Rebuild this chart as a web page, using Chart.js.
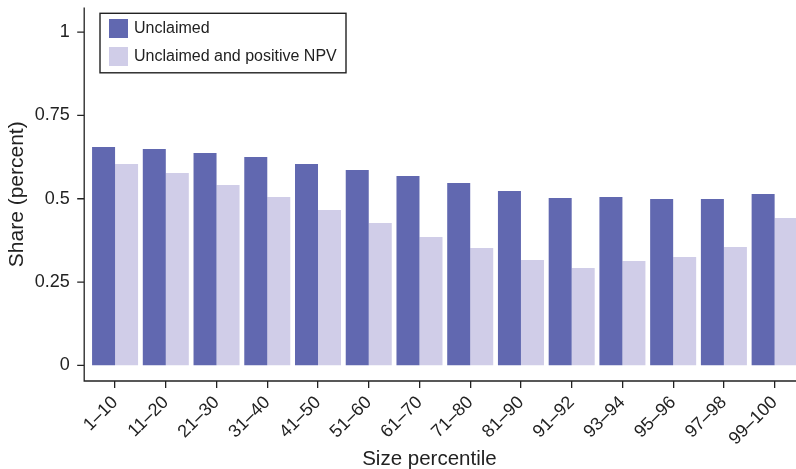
<!DOCTYPE html>
<html>
<head>
<meta charset="utf-8">
<script src="https://cdn.jsdelivr.net/npm/chart.js@4/dist/chart.umd.min.js"></script>
<style>
  html, body { margin: 0; padding: 0; background: #fff; overflow: hidden; }
  #wrap { position: relative; width: 810px; height: 469px; }
</style>
</head>
<body>
<div id="wrap"><canvas id="c"></canvas></div>
<script>
// Share of unclaimed items by size percentile
const categories = ['1–10', '11–20', '21–30', '31–40', '41–50', '51–60', '61–70',
                    '71–80', '81–90', '91–92', '93–94', '95–96', '97–98', '99–100'];
const unclaimed = [0.655, 0.649, 0.637, 0.625, 0.604, 0.586, 0.568,
                   0.547, 0.523, 0.502, 0.505, 0.499, 0.499, 0.514];
const unclaimedPositiveNPV = [0.604, 0.577, 0.541, 0.505, 0.466, 0.427, 0.385,
                              0.352, 0.316, 0.292, 0.313, 0.325, 0.355, 0.442];
const yTicks = [0, 0.25, 0.5, 0.75, 1];
const seriesNames = ['Unclaimed', 'Unclaimed and positive NPV'];
const xTitle = 'Size percentile';
const yTitle = 'Share (percent)';

const INK = '#222222';
const DARK = '#6168b0';
const LIGHT = '#d0cde8';
const AXIS_GAP = 5.5;   // axis lines sit slightly outside the plot region

Chart.defaults.font.family = '"Liberation Sans", Arial, Helvetica, sans-serif';
Chart.defaults.color = INK;

// Detached L-shaped axes, y tick marks, x title and an in-plot boxed legend
const axesAndLegend = {
  id: 'axesAndLegend',
  afterDraw(chart) {
    const { ctx, chartArea, scales } = chart;
    const ax = chartArea.left - AXIS_GAP;
    const ay = chartArea.bottom;
    ctx.save();
    ctx.strokeStyle = INK;
    ctx.lineWidth = 1.3;
    ctx.beginPath();
    ctx.moveTo(ax, chartArea.top);
    ctx.lineTo(ax, ay);
    ctx.lineTo(chart.width, ay);
    scales.y.ticks.forEach(t => {
      const py = scales.y.getPixelForValue(t.value);
      ctx.moveTo(ax - 7, py);
      ctx.lineTo(ax, py);
    });
    ctx.stroke();

    // x-axis title, centred between the y axis and the last tick
    const lastTick = scales.x.getPixelForTick(categories.length - 1);
    ctx.fillStyle = INK;
    ctx.font = '20.5px "Liberation Sans", Arial, sans-serif';
    ctx.textAlign = 'center';
    ctx.textBaseline = 'alphabetic';
    ctx.fillText(xTitle, (ax + lastTick) / 2, chart.height - 4);

    // legend box
    const lx = chartArea.left + 10.3;
    const ly = chartArea.top + 5.8;
    ctx.lineWidth = 1.4;
    ctx.strokeStyle = INK;
    ctx.strokeRect(lx, ly, 246, 59.5);
    ctx.font = '16px "Liberation Sans", Arial, sans-serif';
    ctx.textAlign = 'left';
    ctx.textBaseline = 'middle';
    chart.data.datasets.forEach((ds, i) => {
      const rowTop = ly + 5.7 + i * 28;
      ctx.fillStyle = ds.backgroundColor;
      ctx.fillRect(lx + 9, rowTop, 19, 19);
      ctx.fillStyle = INK;
      ctx.fillText(ds.label, lx + 34, rowTop + 9.8);
    });
    ctx.restore();
  }
};

new Chart(document.getElementById('c'), {
  type: 'bar',
  data: {
    labels: categories,
    datasets: [
      { label: seriesNames[0], data: unclaimed, backgroundColor: DARK,
        barPercentage: 1, categoryPercentage: 0.907 },
      { label: seriesNames[1], data: unclaimedPositiveNPV, backgroundColor: LIGHT,
        barPercentage: 1, categoryPercentage: 0.907 }
    ]
  },
  options: {
    responsive: true,
    maintainAspectRatio: false,
    animation: false,
    layout: { padding: { top: 7.5, right: 10, bottom: 0, left: 0 } },
    plugins: {
      legend: { display: false },
      tooltip: { enabled: false }
    },
    scales: {
      x: {
        offset: true,
        border: { display: false },
        grid: {
          display: true, drawOnChartArea: false, drawTicks: true,
          tickLength: 7, offset: false, color: INK, lineWidth: 1.3
        },
        ticks: {
          autoSkip: false, maxRotation: 45, minRotation: 45,
          padding: 4, color: INK, font: { size: 18 }
        },
        afterFit(scale) {
          scale.height = 88;
          scale.paddingLeft = 0;
          scale.paddingRight = 0;
        }
      },
      y: {
        min: -0.047,
        max: 1.074,
        border: { display: false },
        grid: { display: false, drawTicks: false, tickLength: 0 },
        afterBuildTicks(scale) { scale.ticks = yTicks.map(v => ({ value: v })); },
        ticks: {
          padding: 20, color: INK, font: { size: 18 },
          callback: v => String(v)
        },
        title: {
          display: true, text: yTitle, color: INK,
          font: { size: 21 }, padding: { top: 5, bottom: 0 }
        },
        afterFit(scale) {
          scale.width = 89.7;
          scale.paddingTop = 0;
          scale.paddingBottom = 0;
        }
      }
    }
  },
  plugins: [axesAndLegend]
});
</script>
</body>
</html>
